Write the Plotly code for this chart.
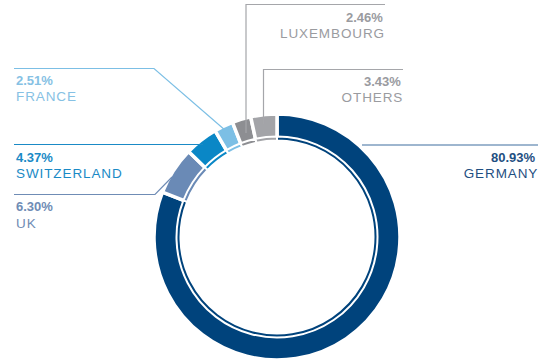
import plotly.graph_objects as go

W, H = 547, 360

countries = ["GERMANY", "UK", "SWITZERLAND", "FRANCE", "LUXEMBOURG", "OTHERS"]
shares = [80.93, 6.30, 4.37, 2.51, 2.46, 3.43]
pct_labels = ["80.93%", "6.30%", "4.37%", "2.51%", "2.46%", "3.43%"]
slice_colors = ["#00437c", "#6a8ab6", "#0a87c6", "#7cbfe5", "#8d8e92", "#a3a4a8"]
text_colors = ["#1f4f82", "#6f8cb5", "#1a8ac6", "#86c1e4", "#9a9b9f", "#9a9b9f"]
line_colors = ["#3f6f9f", "#6f8cb5", "#1a8ac6", "#7cbfe5", "#a5a6aa", "#a5a6aa"]

# geometry (pixels)
CX, CY = 277.0, 237.0
OUT_R, OUT_H, OUT_W = 123.0, 99.0, 3.5     # outer ring path (visible ~101..121)
THIN_R, THIN_H, THIN_W = 100.5, 96.5, 2.0  # thin ring path (visible ~97.5..99.5)

def dom(r):
    return dict(x=[(CX - r) / W, (CX + r) / W],
                y=[(H - CY - r) / H, (H - CY + r) / H])

fig = go.Figure()
fig.add_trace(go.Pie(
    labels=countries, values=shares, sort=False, direction="clockwise", rotation=0,
    hole=OUT_H / OUT_R, domain=dom(OUT_R), textinfo="none", hoverinfo="label+percent",
    marker=dict(colors=slice_colors, line=dict(color="white", width=OUT_W)), showlegend=False))
fig.add_trace(go.Pie(
    labels=countries, values=shares, sort=False, direction="clockwise", rotation=0,
    hole=THIN_H / THIN_R, domain=dom(THIN_R), textinfo="none", hoverinfo="skip",
    marker=dict(colors=slice_colors, line=dict(color="white", width=THIN_W)), showlegend=False))

def px(x):
    return x / W

def py(y):
    return 1 - y / H

# leader lines: polyline pixel points
leaders = {
    "GERMANY": [(362, 145), (538, 145)],
    "UK": [(14, 194.5), (155, 194.5), (172, 177)],
    "SWITZERLAND": [(14, 144.5), (203, 144.5)],
    "FRANCE": [(14, 68.5), (154, 68.5), (233, 137)],
    "LUXEMBOURG": [(385, 4.5), (246, 4.5), (246, 133)],
    "OTHERS": [(403, 69.5), (263.5, 69.5), (263.5, 124)],
}
# label anchors: (x, y of pct line, anchor)
label_pos = {
    "GERMANY": (538, 157, "right"),
    "UK": (14, 207, "left"),
    "SWITZERLAND": (14, 157, "left"),
    "FRANCE": (14, 81, "left"),
    "LUXEMBOURG": (385, 17, "right"),
    "OTHERS": (403, 82, "right"),
}

shapes = []
annotations = []
for i, c in enumerate(countries):
    pts = leaders[c]
    path = "M " + " L ".join(f"{px(x):.5f},{py(y):.5f}" for x, y in pts)
    shapes.append(dict(type="path", xref="paper", yref="paper", path=path,
                       line=dict(color=line_colors[i], width=1.2)))
    x, y, anc = label_pos[c]
    annotations.append(dict(x=px(x), y=py(y), xref="paper", yref="paper",
                            text=f"<b>{pct_labels[i]}</b>", showarrow=False,
                            xanchor=anc, yanchor="middle", align=anc,
                            font=dict(family="Liberation Sans, Arial", size=13,
                                      color=text_colors[i])))
    nx = x + 1.5 if anc == "right" else x
    annotations.append(dict(x=px(nx), y=py(y + 16), xref="paper", yref="paper",
                            text=c, showarrow=False, xanchor=anc, yanchor="middle",
                            align=anc,
                            font=dict(family="Liberation Sans, Arial", size=13.5,
                                      color=text_colors[i])))

fig.update_layout(width=W, height=H, margin=dict(l=0, r=0, t=0, b=0),
                  paper_bgcolor="white", plot_bgcolor="white",
                  shapes=shapes, annotations=annotations)

post = """
var gd = document.getElementById('{plot_id}');
gd.querySelectorAll('text.annotation-text').forEach(function(t){
  if (/^[A-Z]+$/.test(t.textContent.trim())) { t.style.letterSpacing = '0.9px'; }
});
"""
fig.write_html("out.html", post_script=post)
